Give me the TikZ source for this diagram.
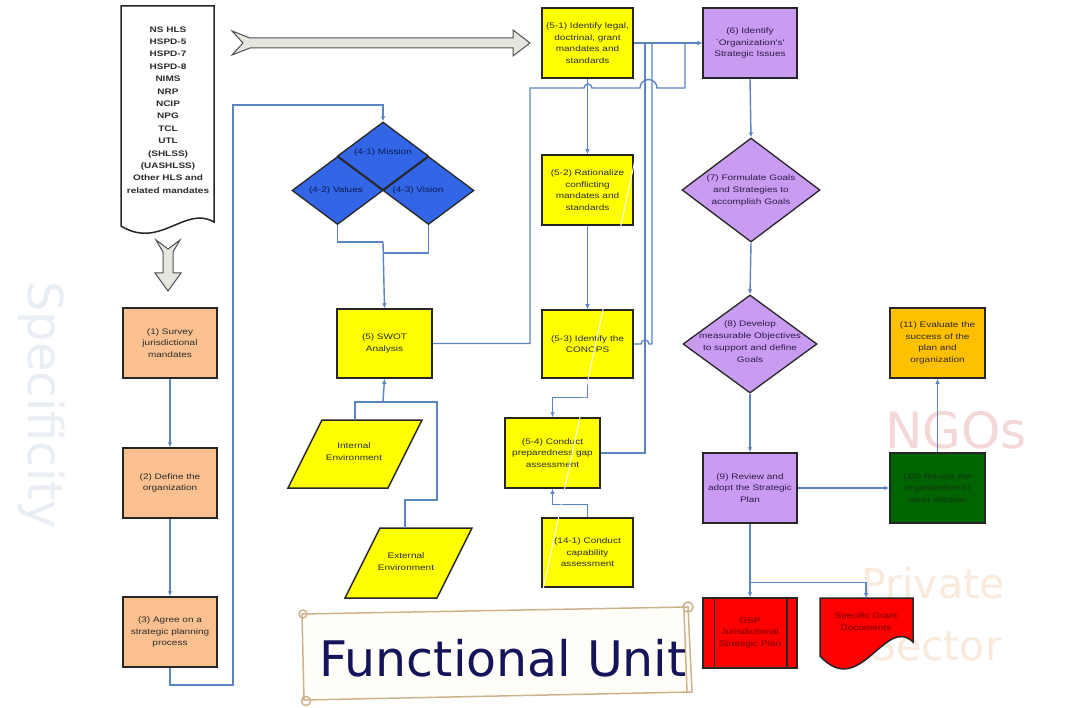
\documentclass[tikz,border=0pt]{standalone}
\usepackage{fontspec}
\setmainfont{Liberation Sans}
\newfontfamily\boxfont[FakeStretch=1.25]{Liberation Sans}
\newfontfamily\titlefont{DejaVu Sans}
\usetikzlibrary{arrows.meta,shapes.geometric}

\definecolor{peach}{HTML}{FAC090}
\definecolor{boxyellow}{HTML}{FFFF00}
\definecolor{dblue}{HTML}{3366E6}
\definecolor{lilac}{HTML}{C99CF2}
\definecolor{dgreen}{HTML}{006400}
\definecolor{gold}{HTML}{FFC000}
\definecolor{boxred}{HTML}{FF0000}
\definecolor{linkblue}{HTML}{5B85C0}
\definecolor{edgecol}{HTML}{262626}
\definecolor{txtdark}{HTML}{2B2B2B}
\definecolor{txtpurple}{HTML}{2D1A4A}
\definecolor{txtnavy}{HTML}{0A1A50}
\definecolor{txtred}{HTML}{700000}
\definecolor{txtgreen}{HTML}{163416}
\definecolor{arrowfill}{HTML}{E6E6DE}
\definecolor{arrowedge}{HTML}{505050}
\definecolor{scrolledge}{HTML}{CDB38B}
\definecolor{scrollfill}{HTML}{FFFEF8}
\definecolor{titlenavy}{HTML}{14145A}
\definecolor{ghostblue}{HTML}{E9EEF4}
\definecolor{ghostpink}{HTML}{F4D8D8}
\definecolor{ghostpeach}{HTML}{F9EADC}

\begin{document}
\begin{tikzpicture}[x=1pt,y=-1pt,
  box/.style={draw=edgecol, line width=1.5pt, inner sep=0pt, align=center,
    font=\boxfont\fontsize{8pt}{11.5pt}\selectfont, text=txtdark},
  dia/.style={diamond, draw=edgecol, line width=1.3pt, inner sep=0pt},
  dtext/.style={inner sep=0pt, align=center,
    font=\boxfont\fontsize{8pt}{12pt}\selectfont},
  shapeline/.style={draw=edgecol, line width=1.5pt},
  link/.style={draw=linkblue, line width=1.4pt, -{Latex[length=5pt,width=4.5pt]}},
  wire/.style={draw=linkblue, line width=1.4pt},
  hollowarrow/.style={draw=arrowedge, line width=1pt, fill=arrowfill, line join=miter},
  scroll/.style={draw=scrolledge, line width=1.5pt},
  ghost/.style={inner sep=0pt, font=\titlefont\fontsize{48pt}{48pt}\selectfont}]

\useasboundingbox (0,0) rectangle (1070,708);
\fill[white] (0,0) rectangle (1070,708);

% faint lettering in the background
\node[ghost, text=ghostblue, rotate=-90] (gspec) at (42,405) {Specificity};
\node[ghost, text=ghostpink, font=\titlefont\fontsize{50pt}{50pt}\selectfont] (gngo) at (956,430) {NGOs};
\node[ghost, text=ghostpeach, font=\titlefont\fontsize{41pt}{41pt}\selectfont] (gpriv) at (933,583) {Private};
\node[ghost, text=ghostpeach, font=\titlefont\fontsize{41pt}{41pt}\selectfont] (gsect) at (936,646) {Sector};

% list of mandates (document shape)
\path[shapeline, fill=white] (121,6) -- (214,6) -- (214,222)
  .. controls (185,205) and (160,250) .. (121,226) -- cycle;
\node[inner sep=0pt, align=center, text=txtdark,
  font=\boxfont\bfseries\fontsize{8pt}{12.4pt}\selectfont] (hls) at (168,110)
  {NS HLS\\HSPD-5\\HSPD-7\\HSPD-8\\NIMS\\NRP\\NCIP\\NPG\\TCL\\UTL\\(SHLSS)\\(UASHLSS)\\Other HLS and\\related mandates};

% block arrows
\path[hollowarrow] (232,31) -- (250,38) -- (513,38) -- (513,30) -- (530,43)
  -- (513,56) -- (513,48) -- (250,48) -- (232,55) -- (243,43) -- cycle;
\path[hollowarrow] (156,240) -- (163,252) -- (163,273) -- (155,273) -- (168,291)
  -- (181,273) -- (173,273) -- (173,252) -- (180,240) -- (168,249) -- cycle;

% scroll banner
\path[scroll, fill=scrollfill] (302,614) -- (688,607) -- (692,692) -- (304,700) -- cycle;
\draw[scroll] (684,611) -- (687,692);
\draw[scroll] (688,607) circle[radius=5pt];
\draw[scroll] (303,614) circle[radius=4pt];
\draw[scroll] (306,701) circle[radius=4.5pt];
\node[anchor=base, inner sep=0pt, text=titlenavy,
  font=\titlefont\fontsize{49pt}{49pt}\selectfont] (fu) at (503,676) {Functional Unit};

% left column
\node[box, fill=peach, minimum width=94pt, minimum height=70pt] (s1) at (170,343)
  {(1) Survey\\jurisdictional\\mandates};
\node[box, fill=peach, minimum width=94pt, minimum height=70pt] (s2) at (170,483)
  {(2) Define the\\organization};
\node[box, fill=peach, minimum width=94pt, minimum height=70pt] (s3) at (170,632)
  {(3) Agree on a\\strategic planning\\process};

% mission, values, vision
\node[dia, fill=dblue, minimum width=91pt, minimum height=68pt] (m41) at (383,156) {};
\node[dia, fill=dblue, minimum width=91pt, minimum height=68pt] (m42) at (337.5,190.5) {};
\node[dia, fill=dblue, minimum width=91pt, minimum height=68pt] (m43) at (428.5,190.5) {};
\node[dtext, text=txtnavy] (t41) at (383,152) {(4-1) Mission};
\node[dtext, text=txtnavy] (t42) at (336,190) {(4-2) Values};
\node[dtext, text=txtnavy] (t43) at (418,190) {(4-3) Vision};

% SWOT and its inputs
\node[box, fill=boxyellow, minimum width=95pt, minimum height=69pt] (swot) at (384.5,343.5)
  {(5) SWOT\\Analysis};
\path[shapeline, fill=boxyellow] (322,420) -- (422,420) -- (388,488) -- (288,488) -- cycle;
\node[dtext, text=txtdark] (ienv) at (354,452) {Internal\\Environment};
\path[shapeline, fill=boxyellow] (380,528) -- (472,528) -- (437,598) -- (345,598) -- cycle;
\node[dtext, text=txtdark] (eenv) at (406,562) {External\\Environment};
\coordinate (itop) at (355,420);
\coordinate (etop) at (405,528);

% mandates column
\node[box, fill=boxyellow, minimum width=91pt, minimum height=70pt] (s51) at (587.5,43)
  {(5-1) Identify legal,\\doctrinal, grant\\mandates and\\standards};
\node[box, fill=boxyellow, minimum width=91pt, minimum height=70pt] (s52) at (587.5,190)
  {(5-2) Rationalize\\conflicting\\mandates and\\standards};
\node[box, fill=boxyellow, minimum width=91pt, minimum height=68pt] (s53) at (587.5,344)
  {(5-3) Identify the\\CONOPS};
\node[box, fill=boxyellow, minimum width=95pt, minimum height=70pt] (s54) at (552.5,453)
  {(5-4) Conduct\\preparedness gap\\assessment};
\node[box, fill=boxyellow, minimum width=91pt, minimum height=69pt] (s141) at (587.5,552.5)
  {(14-1) Conduct\\capability\\assessment};

% strategy column
\node[box, fill=lilac, text=txtpurple, minimum width=94pt, minimum height=70pt] (s6) at (750,43)
  {(6) Identify\\`Organization's'\\Strategic Issues};
\node[dia, fill=lilac, minimum width=138pt, minimum height=104pt] (d7) at (751,190) {};
\node[dtext, text=txtpurple] (t7) at (751,190) {(7) Formulate Goals\\and Strategies to\\accomplish Goals};
\node[dia, fill=lilac, minimum width=134pt, minimum height=98pt] (d8) at (750,344) {};
\node[dtext, text=txtpurple] (t8) at (750,342) {(8) Develop\\measurable Objectives\\to support and define\\Goals};
\node[box, fill=lilac, text=txtpurple, minimum width=94pt, minimum height=70pt] (s9) at (750,488)
  {(9) Review and\\adopt the Strategic\\Plan};
\node[box, fill=dgreen, text=txtgreen, minimum width=95pt, minimum height=70pt] (s10) at (937.5,488)
  {(10) Revise the\\organization to\\meet mission};
\node[box, fill=gold, minimum width=95pt, minimum height=70pt] (s11) at (937.5,343)
  {(11) Evaluate the\\success of the\\plan and\\organization};

% outputs
\node[box, fill=boxred, text=txtred, minimum width=94pt, minimum height=70pt] (gsp) at (750,633)
  {GSP\\Jurisdictional\\Strategic Plan};
\draw[shapeline] ([xshift=12pt]gsp.north west) -- ([xshift=12pt]gsp.south west);
\draw[shapeline] ([xshift=-11pt]gsp.north east) -- ([xshift=-11pt]gsp.south east);
\path[shapeline, fill=boxred] (820,598) -- (913,598) -- (913,642)
  .. controls (885,615) and (860,700) .. (820,656) -- cycle;
\node[dtext, text=txtred] (sgd) at (866,622) {Specific Grant\\Documents};
\coordinate (sgdtop) at (866,598);

% junction points
\coordinate (j1) at (383,242);
\coordinate (j2) at (383,253);
\coordinate (j3) at (383,402);

% connectors: left column
\draw[link] (s1.south) -- (s2.north);
\draw[link] (s2.south) -- (s3.north);
\draw[link] (s3.south) -- (170,685) -- (233,685) -- (233,105) -- (383,105) -- (m41.north);

% connectors: mission block and SWOT
\draw[wire] (m42.south) |- (j1);
\draw[wire] (m43.south) |- (j2);
\draw[link] (j1) -- (swot.north);
\draw[wire] (itop) -- (355,402) -- (j3);
\draw[wire] (etop) -- (405,500) -- (437,500) -- (437,402) -- (j3);
\draw[link] (j3) -- (swot.south);
\draw[link] (swot.east) -- (530,343.5) -- (530,88) -- (584,88)
  arc[start angle=180, end angle=0, radius=4pt] -- (640,88)
  arc[start angle=180, end angle=0, radius=8.5pt] -- (685,88) -- (685,43) -- (s6.west);

% connectors: mandates column
\draw[link] (s51.east) -- (s6.west);
\draw[link] (s51.south) -- (s52.north);
\draw[link] (s52.south) -- (s53.north);
\draw[link] (s53.south) -- ++(0,19) -| (s54.north);
\draw[link] (s141.north) -- ++(0,-13) -| (s54.south);
\draw[wire] (s53.east) -- (641,344) arc[start angle=180, end angle=0, radius=4pt] -- (652,344) -- (652,43);
\draw[wire] (s54.east) -- (645,453) -- (645,43);

% connectors: strategy column
\draw[link] (s6.south) -- (d7.north);
\draw[link] (d7.south) -- (d8.north);
\draw[link] (d8.south) -- (s9.north);
\draw[link] (s9.east) -- (s10.west);
\draw[link] (s10.north) -- (s11.south);
\draw[link] (s9.south) -- (gsp.north);
\draw[link] (s9.south) -- ++(0,59) -| (sgdtop);

% thin light streak across the mandates column
\draw[white, line width=1pt] (636,155) -- (543,590);

\end{tikzpicture}
\end{document}
